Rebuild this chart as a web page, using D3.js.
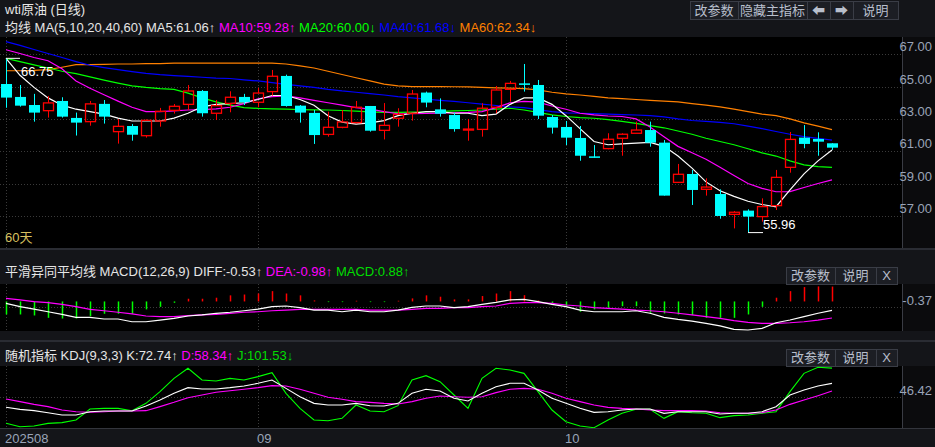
<!DOCTYPE html>
<html><head><meta charset="utf-8">
<script src="https://cdn.jsdelivr.net/npm/d3@7"></script>
<style>body{margin:0;background:#000;}svg{display:block;font-family:"Liberation Sans","Noto Sans CJK SC",sans-serif;}</style>
</head><body><svg id="c" width="935" height="447"></svg>
<script>
const opens  =[65.16,64.36,63.86,63.51,64.11,63.06,62.83,63.93,62.21,62.56,61.96,62.87,63.53,63.90,64.73,63.35,63.96,64.36,64.03,64.69,65.66,63.82,63.37,62.04,62.48,62.77,63.80,62.29,63.04,63.35,64.63,63.59,63.24,62.33,62.35,63.72,64.83,65.20,65.10,63.12,62.50,61.82,60.68,61.16,61.80,62.11,62.31,61.53,59.07,59.59,58.64,58.35,57.09,57.32,56.95,57.63,60.00,61.84,61.76,61.49];
const closes =[64.32,63.82,63.39,63.99,63.14,62.77,63.93,63.14,62.54,62.02,62.91,63.47,63.78,64.73,63.35,63.82,64.34,64.03,64.60,65.64,63.80,63.39,62.00,62.48,62.81,63.72,62.27,62.60,63.28,64.54,64.01,63.32,62.37,62.37,63.66,64.79,65.20,65.18,63.20,62.46,61.84,60.72,60.66,61.74,62.05,62.31,61.53,58.25,59.57,58.60,58.78,56.99,57.22,56.95,57.57,59.38,61.73,61.45,61.59,61.22];
const highs  =[66.75,65.10,64.55,64.42,64.34,63.39,64.11,64.17,62.99,62.68,62.97,63.68,63.92,65.10,64.79,64.17,64.71,64.55,64.93,66.03,65.74,63.86,63.55,63.45,63.55,64.11,63.80,63.98,63.66,64.79,64.69,64.27,63.39,62.99,63.97,65.04,65.35,66.40,65.41,63.24,62.87,62.56,61.38,62.11,62.11,62.83,62.83,61.69,60.21,59.84,59.32,58.64,57.30,57.40,58.08,59.84,62.19,62.62,62.17,61.49];
const lows   =[63.69,63.76,62.83,63.08,63.08,61.97,62.58,62.71,61.47,61.65,61.84,62.52,63.33,63.55,63.14,62.93,63.41,63.86,63.72,64.44,63.76,62.77,61.45,61.90,62.42,62.73,62.21,61.73,62.52,62.89,63.72,63.14,62.21,61.65,61.90,63.35,64.07,64.69,62.99,62.09,61.38,60.41,60.60,61.12,60.72,62.11,61.28,58.25,59.07,57.67,58.25,56.82,56.22,55.96,56.64,57.36,59.67,61.18,60.72,61.08];
const ma5  =[66.75,65.7,64.95,64.3,63.85,63.6,63.45,63.3,63.05,62.87,62.87,62.87,63.05,63.35,63.75,63.9,63.95,64.0,64.2,64.45,64.45,64.2,63.85,63.2,62.8,62.68,62.75,62.89,63.2,63.35,63.45,63.45,63.35,63.35,63.2,63.3,63.9,64.3,64.3,63.9,63.2,62.4,61.6,61.4,61.45,61.5,61.55,61.3,60.7,59.95,59.1,58.55,58.2,57.9,57.7,57.56,58.6,59.6,60.4,61.08];
const ma10 =[67.28,67.05,66.8,66.6,66.1,65.35,64.9,64.5,64.1,63.72,63.45,63.45,63.5,63.55,63.57,63.62,63.72,63.95,64.25,64.38,64.43,64.3,64.15,64.0,63.85,63.7,63.6,63.45,63.32,63.32,63.34,63.36,63.38,63.4,63.45,63.7,64.0,64.09,64.04,63.8,63.6,63.35,63.25,63.18,63.15,63.0,62.5,61.9,61.3,60.9,60.5,60.0,59.5,59.0,58.7,58.49,58.5,58.75,59.0,59.22];
const ma20 =[66.75,66.55,66.35,66.15,65.95,65.8,65.6,65.4,65.22,65.05,64.95,64.88,64.83,64.6,64.3,64.05,63.85,63.7,63.65,63.62,63.6,63.58,63.56,63.55,63.52,63.48,63.44,63.41,63.41,63.42,63.43,63.46,63.5,63.52,63.55,63.6,63.66,63.55,63.4,63.25,63.15,63.08,63.04,62.95,62.85,62.72,62.58,62.45,62.25,62.05,61.8,61.6,61.4,61.15,60.9,60.7,60.4,60.15,60.05,60.0];
const ma40 =[67.78,67.55,67.3,67.05,66.8,66.55,66.32,66.18,66.05,65.93,65.82,65.74,65.68,65.63,65.58,65.53,65.5,65.42,65.35,65.25,65.14,65.05,64.95,64.83,64.73,64.65,64.57,64.48,64.38,64.3,64.22,64.15,64.08,64.0,63.92,63.83,63.75,63.7,63.58,63.45,63.37,63.35,63.33,63.3,63.27,63.24,63.2,63.12,63.0,62.9,62.85,62.78,62.7,62.55,62.4,62.22,62.05,61.9,61.8,61.68];
const ma60 =[65.98,65.98,66.0,66.05,66.2,66.36,66.36,66.38,66.4,66.4,66.42,66.42,66.45,66.45,66.45,66.45,66.45,66.45,66.45,66.45,66.4,66.28,66.15,65.95,65.75,65.55,65.35,65.15,65.05,65.0,65.0,65.0,64.99,64.98,64.95,64.92,64.9,64.88,64.8,64.65,64.55,64.48,64.4,64.3,64.25,64.2,64.15,64.1,64.05,63.95,63.85,63.75,63.6,63.45,63.3,63.2,63.0,62.75,62.55,62.34];
const diff =[-0.11,-0.31,-0.45,-0.61,-0.76,-0.94,-0.94,-1.04,-1.04,-1.2,-1.2,-1.1,-1.0,-0.86,-0.8,-0.7,-0.64,-0.55,-0.45,-0.31,-0.27,-0.37,-0.51,-0.51,-0.61,-0.51,-0.61,-0.61,-0.51,-0.35,-0.27,-0.27,-0.37,-0.31,-0.17,-0.05,0.09,0.12,-0.01,-0.17,-0.31,-0.51,-0.61,-0.61,-0.61,-0.55,-0.7,-0.94,-1.06,-1.16,-1.3,-1.45,-1.65,-1.69,-1.59,-1.26,-1.1,-0.9,-0.7,-0.53];
const dea  =[0.18,0.09,-0.01,-0.07,-0.17,-0.31,-0.47,-0.55,-0.64,-0.74,-0.86,-0.9,-0.9,-0.84,-0.8,-0.76,-0.7,-0.64,-0.61,-0.55,-0.51,-0.47,-0.47,-0.47,-0.47,-0.47,-0.51,-0.51,-0.51,-0.47,-0.41,-0.41,-0.37,-0.37,-0.31,-0.27,-0.11,-0.07,-0.07,-0.11,-0.21,-0.27,-0.37,-0.41,-0.45,-0.51,-0.55,-0.61,-0.7,-0.8,-0.9,-1.0,-1.14,-1.24,-1.3,-1.3,-1.26,-1.2,-1.1,-0.98];
const macd =[-0.77,-0.77,-0.83,-0.97,-1.01,-1.01,-0.87,-0.73,-0.73,-0.73,-0.47,-0.32,-0.08,0.16,0.16,0.22,0.36,0.41,0.47,0.61,0.47,0.36,0.06,-0.04,-0.04,0.04,-0.04,-0.04,0.04,0.18,0.36,0.28,0.12,0.12,0.32,0.47,0.61,0.37,0.06,-0.18,-0.28,-0.61,-0.47,-0.37,-0.28,-0.28,-0.67,-0.71,-0.77,-0.81,-0.97,-0.97,-0.97,-0.77,-0.32,0.22,0.61,0.85,0.89,0.88];
const kVals=[27.5,23.7,21.2,17.4,13,13,19.3,20.6,20.6,20.6,30,41.3,53.9,64.6,62.1,62.1,64.6,67.7,72.8,79.1,63.3,47.6,35,31.9,31.9,35,30.6,30,35,53.9,61.5,58.3,44.5,39.4,53.9,66.5,72.8,72.8,60.2,44.5,35,25.6,18,19.3,22.4,24.3,24.3,16.2,19.3,19.3,19.3,14.9,16.2,16.2,19.3,28.7,50.8,60.2,67.7,72.74];
const dVals=[43.2,38.2,33.1,28.8,22.5,19.3,18.1,19.3,20.6,20.6,21.2,28.8,36.9,45.7,50.8,55.8,58.9,61.5,64.6,68.4,67.7,61.5,53.9,46.4,42.6,38.2,36.9,35,33.8,38.2,44.5,48.9,47.6,46.4,47.6,55.2,61.5,63.3,61.5,53.9,44.5,38.2,31.9,27.5,25.6,24.3,22.4,21.2,21.2,21.2,20.6,17.4,16.2,16.2,17.4,22.4,33.1,41.3,49.5,58.34];
const jVals=[-2.7,-9,-7.7,-2.7,-1.4,3.6,24.3,25.6,25.6,21.2,35,57,82.2,101.1,79.1,77.2,82.2,79.1,85.4,92.9,53.9,25.6,3.6,2.3,6.7,31.9,20.6,19.3,30.6,79.1,87.2,75.9,50.8,25.6,82.2,101.1,97.9,91.6,57,22.4,0.4,-7.7,-10.9,3.6,16.2,23.7,23.7,6.7,19.3,17.4,16.2,8,11.8,13,16.2,19.3,57,91.6,103,101.53];
const priceTicks=[67,65,63,61,59,57];
const dateTicks=[{i:0,t:"202508"},{i:18,t:"09"},{i:40,t:"10"}];

const svg=d3.select("#c");
const W=935, PR=902;
svg.append("rect").attr("width",W).attr("height",447).attr("fill","#141519");
const x=d3.scaleLinear().domain([0,59]).range([6,832]);
const yP=d3.scaleLinear().domain([57,67]).range([215.8,54.3]);
const yM=d3.scaleLinear().domain([-0.37,0.63]).range([307.7,290.8]);
const yK=d3.scaleLinear().domain([46.42,100]).range([397.3,368.9]);
const txtCol="#e6e6e6", axCol="#9aa4b8";

function panel(y0,y1){
  svg.append("rect").attr("x",0).attr("y",y0).attr("width",PR).attr("height",y1-y0).attr("fill","#000");
  svg.append("rect").attr("x",PR).attr("y",y0).attr("width",W-PR).attr("height",y1-y0).attr("fill","#0b0b0d");
  svg.append("line").attr("x1",PR+0.5).attr("x2",PR+0.5).attr("y1",y0).attr("y2",y1).attr("stroke","#3a3c44");
  dateTicks.forEach(d=>svg.append("line").attr("x1",x(d.i)+0.5).attr("x2",x(d.i)+0.5).attr("y1",y0).attr("y2",y1).attr("stroke","#3a3a3a").attr("stroke-dasharray","1,2"));
}
function btns(list,y,h){
  list.forEach(b=>{
    svg.append("rect").attr("x",b[1]+0.5).attr("y",y+0.5).attr("width",b[2]-b[1]).attr("height",h).attr("fill","#1c1e24").attr("stroke","#3a3d46");
    svg.append("text").attr("x",(b[1]+b[2])/2).attr("y",y+h/2+4.5).attr("text-anchor","middle").attr("fill","#b8bfcc").attr("font-size",13).text(b[0]);
  });
}
function legend(y,parts){
  let t=svg.append("text").attr("x",5).attr("y",y).attr("font-size",13);
  parts.forEach(p=>t.append("tspan").attr("fill",p[1]).text(p[0]));
}
function clip(id,y0,y1){svg.append("clipPath").attr("id",id).append("rect").attr("x",0).attr("y",y0).attr("width",PR).attr("height",y1-y0);}

// title bar
svg.append("text").attr("x",5).attr("y",14).attr("fill",txtCol).attr("font-size",13).text("wti原油 (日线)");
btns([["改参数",690,738],["隐藏主指标",738,807],["⬅",807,830],["➡",830,853],["说明",853,898]],1,18);

// main panel
panel(37,248);
legend(32,[["均线 MA(5,10,20,40,60)  MA5:61.06↑ ",txtCol],["MA10:59.28↑ ","#ff00ff"],["MA20:60.00↓ ","#00ff00"],["MA40:61.68↓ ","#0000ff"],["MA60:62.34↓","#ff8000"]]);
priceTicks.forEach(p=>{
  svg.append("line").attr("x1",0).attr("x2",PR).attr("y1",Math.round(yP(p))+0.5).attr("y2",Math.round(yP(p))+0.5).attr("stroke","#3a3a3a").attr("stroke-dasharray","1,2");
  svg.append("text").attr("x",932).attr("y",yP(p)-3).attr("text-anchor","end").attr("fill",axCol).attr("font-size",13).text(p.toFixed(2));
});
clip("cm",37,248);
const gm=svg.append("g").attr("clip-path","url(#cm)");
const line=(y,arr)=>d3.line().x((d,i)=>x(i)).y(d=>y(d))(arr);
[[ma60,"#ff8000"],[ma40,"#0000ff"],[ma20,"#00ff00"],[ma10,"#ff00ff"],[ma5,"#ffffff"]].forEach(m=>gm.append("path").attr("d",line(yP,m[0])).attr("fill","none").attr("stroke",m[1]).attr("stroke-width",1.2));
opens.forEach((o,i)=>{
  const c=closes[i], up=c>=o, col=up?"#ff0000":"#00ffff", cx=Math.round(x(i))+0.5;
  const top=yP(Math.max(o,c)), bot=yP(Math.min(o,c));
  if(up){
    gm.append("line").attr("x1",cx).attr("x2",cx).attr("y1",yP(highs[i])).attr("y2",top).attr("stroke",col);
    gm.append("line").attr("x1",cx).attr("x2",cx).attr("y1",bot).attr("y2",yP(lows[i])).attr("stroke",col);
    gm.append("rect").attr("x",cx-5).attr("y",top).attr("width",10).attr("height",Math.max(bot-top,1)).attr("fill","none").attr("stroke",col).attr("stroke-width",1.3);
  }else{
    gm.append("line").attr("x1",cx).attr("x2",cx).attr("y1",yP(highs[i])).attr("y2",yP(lows[i])).attr("stroke",col);
    gm.append("rect").attr("x",cx-5.5).attr("y",top).attr("width",11).attr("height",Math.max(bot-top,1.5)).attr("fill",col);
  }
});
const hi=d3.maxIndex(highs), lo=d3.minIndex(lows);
gm.append("line").attr("x1",x(hi)).attr("x2",x(hi)+14).attr("y1",yP(highs[hi])).attr("y2",yP(highs[hi])).attr("stroke","#fff");
gm.append("text").attr("x",x(hi)+15).attr("y",yP(highs[hi])+18).attr("fill","#fff").attr("font-size",13).text(highs[hi].toFixed(2));
gm.append("line").attr("x1",x(lo)).attr("x2",x(lo)+15).attr("y1",yP(lows[lo])).attr("y2",yP(lows[lo])).attr("stroke","#fff");
gm.append("text").attr("x",x(lo)+15).attr("y",yP(lows[lo])-4).attr("fill","#fff").attr("font-size",13).text(lows[lo].toFixed(2));
svg.append("text").attr("x",5).attr("y",242).attr("fill","#d8c060").attr("font-size",13).text("60天");

// MACD
svg.append("rect").attr("x",0).attr("y",248).attr("width",W).attr("height",2).attr("fill","#2a2c33");
legend(276,[["平滑异同平均线 MACD(12,26,9)  DIFF:-0.53↑ ",txtCol],["DEA:-0.98↑ ","#ff00ff"],["MACD:0.88↑","#00dd00"]]);
panel(284,331);
btns([["改参数",786,835],["说明",835,876],["X",876,897]],267,17);
svg.append("line").attr("x1",0).attr("x2",PR).attr("y1",307.5).attr("y2",307.5).attr("stroke","#3a3a3a").attr("stroke-dasharray","1,2");
svg.append("text").attr("x",932).attr("y",305).attr("text-anchor","end").attr("fill",axCol).attr("font-size",13).text("-0.37");
clip("cd",284,331);
const gd=svg.append("g").attr("clip-path","url(#cd)");
macd.forEach((v,i)=>{const cx=Math.round(x(i))+0.5;gd.append("line").attr("x1",cx).attr("x2",cx).attr("y1",yM(0)).attr("y2",yM(v)).attr("stroke",v>=0?"#ff0000":"#00ff00").attr("stroke-width",1.5);});
gd.append("path").attr("d",line(yM,dea)).attr("fill","none").attr("stroke","#ff00ff").attr("stroke-width",1.2);
gd.append("path").attr("d",line(yM,diff)).attr("fill","none").attr("stroke","#fff").attr("stroke-width",1.2);

// KDJ
svg.append("rect").attr("x",0).attr("y",340).attr("width",W).attr("height",2).attr("fill","#2a2c33");
legend(360,[["随机指标 KDJ(9,3,3)  K:72.74↑ ",txtCol],["D:58.34↑ ","#ff00ff"],["J:101.53↓","#00dd00"]]);
panel(366,428);
btns([["改参数",786,835],["说明",835,876],["X",876,897]],349,17);
svg.append("line").attr("x1",0).attr("x2",PR).attr("y1",397.5).attr("y2",397.5).attr("stroke","#3a3a3a").attr("stroke-dasharray","1,2");
svg.append("text").attr("x",932).attr("y",395).attr("text-anchor","end").attr("fill",axCol).attr("font-size",13).text("46.42");
clip("ck",366,428);
const gk=svg.append("g").attr("clip-path","url(#ck)");
[[jVals,"#00ff00"],[dVals,"#ff00ff"],[kVals,"#ffffff"]].forEach(m=>gk.append("path").attr("d",line(yK,m[0])).attr("fill","none").attr("stroke",m[1]).attr("stroke-width",1.1));
svg.append("line").attr("x1",0).attr("x2",W).attr("y1",428.5).attr("y2",428.5).attr("stroke","#33353c");
dateTicks.forEach(d=>svg.append("text").attr("x",x(d.i)-1).attr("y",443).attr("fill",axCol).attr("font-size",13).text(d.t));
</script></body></html>
